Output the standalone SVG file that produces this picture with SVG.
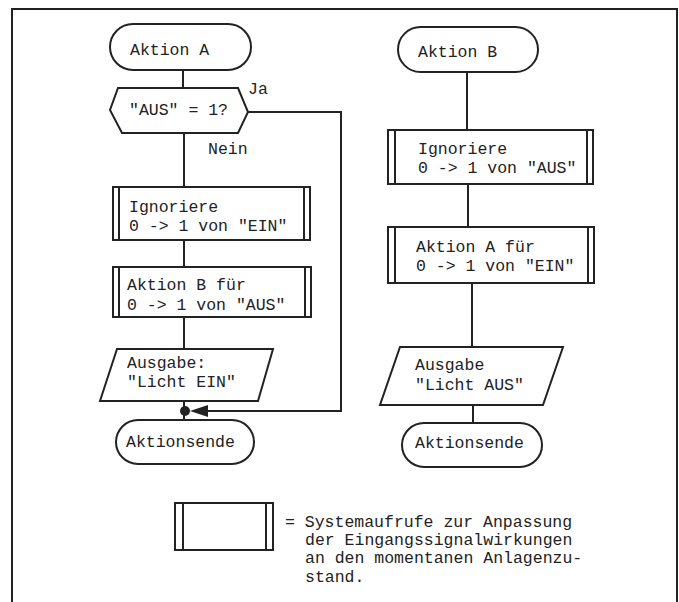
<svg xmlns="http://www.w3.org/2000/svg" width="679" height="602" viewBox="0 0 679 602">
<style>
.s{fill:#fff;stroke:#222;stroke-width:2}
.l{fill:none;stroke:#222;stroke-width:2}
.t{font-family:"Liberation Mono","DejaVu Sans Mono",monospace;font-size:16.5px;fill:#222}
</style>
<rect width="679" height="602" fill="#fff"/>
<path class="l" d="M12,602 V9 H677 V602" stroke="#555"/>
<g id="connectors">
<path class="l" d="M183,70 V88"/>
<path class="l" d="M184,133 V187"/>
<path class="l" d="M184,240 V267"/>
<path class="l" d="M184,317 V349"/>
<path class="l" d="M184,401 V420"/>
<path class="l" d="M248,112 H341 V411 H205"/>
<circle cx="185" cy="411" r="5" fill="#222"/>
<polygon points="190,411 208,405 208,417" fill="#222"/>
<path class="l" d="M467,72 V130"/>
<path class="l" d="M468,184 V227"/>
<path class="l" d="M472,283 V347"/>
<path class="l" d="M473,405 V423"/>
</g>
<g id="aktionA">
<rect class="s" x="110" y="24" width="141" height="46" rx="23"/>
<text class="t" x="130" y="55">Aktion A</text>
</g>
<g id="decision">
<polygon class="s" points="118,88 238,88 248,112 238,133 122,133 110,110"/>
<text class="t" x="129" y="115">"AUS" = 1?</text>
<text class="t" x="248" y="94">Ja</text>
<text class="t" x="208" y="154">Nein</text>
</g>
<g id="ignoriereEIN">
<rect class="s" x="113" y="187" width="197" height="53"/>
<path class="l" d="M119,187 V240 M304,187 V240"/>
<text class="t" x="129" y="212">Ignoriere</text>
<text class="t" x="129" y="231">0 -&gt; 1 von "EIN"</text>
</g>
<g id="aktionBfuer">
<rect class="s" x="113" y="267" width="198" height="50"/>
<path class="l" d="M119,267 V317 M305,267 V317"/>
<text class="t" x="127" y="290">Aktion B für</text>
<text class="t" x="127" y="310">0 -&gt; 1 von "AUS"</text>
</g>
<g id="ausgabeEIN">
<polygon class="s" points="117,349 273,349 258,401 100,401"/>
<text class="t" x="127" y="368">Ausgabe:</text>
<text class="t" x="127" y="387">"Licht EIN"</text>
</g>
<g id="endeA">
<rect class="s" x="116" y="420" width="138" height="44" rx="22"/>
<text class="t" x="126" y="447">Aktionsende</text>
</g>
<g id="aktionB">
<rect class="s" x="398" y="27" width="140" height="45" rx="22.5"/>
<text class="t" x="418" y="57">Aktion B</text>
</g>
<g id="ignoriereAUS">
<rect class="s" x="388" y="130" width="205" height="54"/>
<path class="l" d="M395,130 V184 M587,130 V184"/>
<text class="t" x="418" y="154">Ignoriere</text>
<text class="t" x="418" y="173">0 -&gt; 1 von "AUS"</text>
</g>
<g id="aktionAfuer">
<rect class="s" x="388" y="227" width="206" height="56"/>
<path class="l" d="M395,227 V283 M588,227 V283"/>
<text class="t" x="416" y="252">Aktion A für</text>
<text class="t" x="416" y="271">0 -&gt; 1 von "EIN"</text>
</g>
<g id="ausgabeAUS">
<polygon class="s" points="400,347 563,347 543,405 380,405"/>
<text class="t" x="415" y="370">Ausgabe</text>
<text class="t" x="415" y="390">"Licht AUS"</text>
</g>
<g id="endeB">
<rect class="s" x="402" y="423" width="140" height="44" rx="22"/>
<text class="t" x="415" y="448">Aktionsende</text>
</g>
<g id="legend">
<rect class="s" x="175" y="503" width="98" height="47"/>
<path class="l" d="M183,503 V550 M266,503 V550"/>
<text class="t" x="285" y="527">= Systemaufrufe zur Anpassung</text>
<text class="t" x="305" y="545">der Eingangssignalwirkungen</text>
<text class="t" x="305" y="563">an den momentanen Anlagenzu-</text>
<text class="t" x="305" y="582">stand.</text>
</g>
</svg>
